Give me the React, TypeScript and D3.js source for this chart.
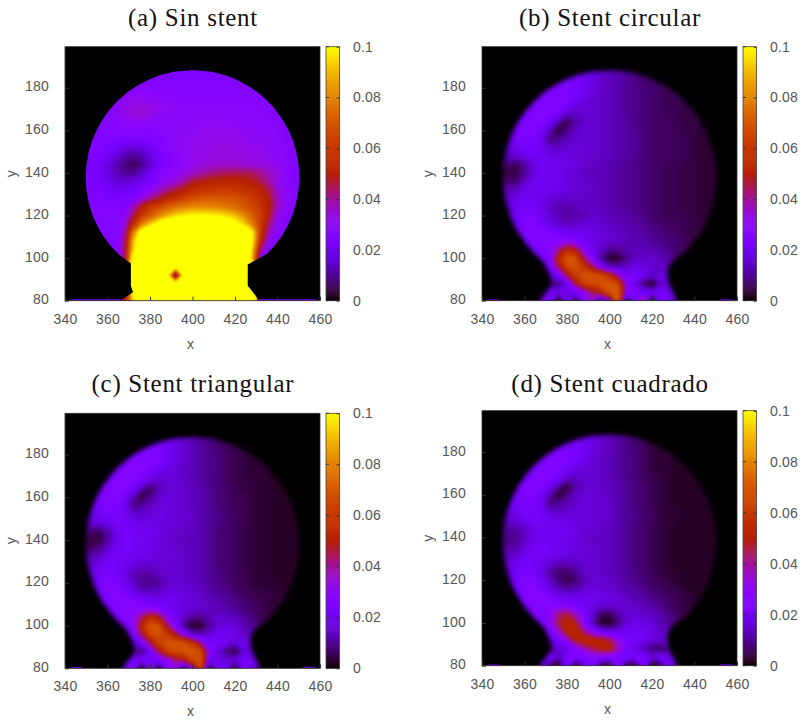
import React, { useRef, useEffect } from "react";
import * as d3 from "d3";

// Columns run x = 348..452 and rows y = 192..80, both every 4 units.
const gridX = d3.range(348, 453, 4);
const gridY = d3.range(192, 79, -4);
const xTicks = [340, 360, 380, 400, 420, 440, 460];
const yTicks = [80, 100, 120, 140, 160, 180];
const barTicks = [0, 0.02, 0.04, 0.06, 0.08, 0.1];

const sinStent = [
  [0,0,0,0,0,0,0,0,0,0,0,0,0,0,0,0,0,0,0,0,0,0,0,0,0,0,0],
  [0,0,0,0,0,24,24,24,24,24,24,24,24,24,24,24,24,24,24,24,24,24,0,0,0,0,0],
  [0,0,0,0,24,24,25,25,25,25,25,25,25,25,25,25,25,25,25,25,25,25,24,24,0,0,0],
  [0,0,0,24,25,26,27,27,27,27,27,26,26,26,26,26,26,26,26,26,26,26,25,25,24,0,0],
  [0,0,24,25,27,29,30,30,29,28,27,27,27,27,27,27,27,27,27,27,27,26,26,25,25,24,0],
  [0,24,25,26,28,31,33,33,32,31,30,29,28,28,28,28,28,28,28,28,28,27,27,26,25,25,0],
  [24,25,26,27,29,32,34,34,33,31,30,29,29,29,29,29,29,29,29,29,28,28,27,27,26,25,24],
  [24,25,26,27,28,29,30,30,29,29,29,29,29,30,30,30,30,30,30,29,29,28,28,27,26,25,24],
  [24,24,25,26,26,26,26,26,26,27,28,29,30,30,31,31,31,31,31,30,30,29,28,28,27,26,25],
  [24,24,25,25,25,24,24,24,24,26,28,29,30,31,31,31,32,32,31,31,30,30,29,28,27,26,25],
  [24,24,24,23,21,18,16,17,21,25,28,29,30,31,32,32,33,33,32,32,31,31,30,29,28,27,26],
  [24,24,23,21,17,12,10,12,17,22,26,28,30,31,32,33,33,33,33,33,32,32,31,30,28,27,26],
  [24,23,21,18,13,8,6,9,15,21,26,28,30,31,33,34,35,35,35,34,34,33,32,30,28,27,26],
  [24,23,21,17,13,10,10,14,20,25,28,30,32,36,38,41,43,44,45,45,44,41,37,33,29,27,26],
  [24,24,22,19,16,15,17,20,24,28,31,34,39,46,49,51,52,53,53,52,49,45,39,32,28,27,26],
  [24,24,23,21,20,20,22,25,29,35,41,46,51,57,59,60,61,61,60,59,56,52,45,35,29,27,26],
  [24,24,24,23,23,24,26,33,40,47,53,58,63,68,70,71,71,70,69,66,62,57,49,36,29,28,26],
  [25,25,25,25,25,27,36,50,60,66,72,77,80,82,82,81,80,78,75,71,66,60,50,36,29,27,26],
  [25,25,25,25,25,28,44,60,70,80,88,94,98,101,101,100,98,95,90,82,72,62,48,32,27,27,26],
  [25,25,25,25,26,32,55,78,92,105,115,125,130,130,130,125,120,112,105,95,80,62,42,30,27,27,26],
  [25,25,25,25,26,36,78,108,125,140,140,140,140,140,140,140,140,140,130,120,102,60,36,28,27,27,26],
  [25,25,25,25,26,40,88,115,140,140,140,140,140,140,140,140,140,140,140,130,100,55,30,27,27,27,26],
  [25,25,25,25,26,42,92,120,140,140,140,140,140,140,140,140,140,140,140,130,95,40,28,27,27,27,26],
  [25,25,25,25,26,40,105,130,140,140,140,140,140,140,140,140,140,140,140,130,90,28,27,27,27,27,26],
  [0,0,0,0,30,40,130,140,140,140,122,108,122,140,140,140,140,140,140,130,100,60,0,0,0,0,0],
  [0,0,0,0,0,40,130,140,140,140,108,28,108,140,140,140,140,140,140,130,120,60,0,0,0,0,0],
  [0,0,0,0,0,40,130,140,140,140,122,108,122,140,140,140,140,140,140,130,120,60,0,0,0,0,0],
  [0,0,0,0,0,40,110,140,140,140,140,140,140,140,140,140,140,140,140,140,130,60,0,0,0,0,0],
  [0,0,0,0,30,50,90,140,140,140,140,140,140,140,140,140,140,140,140,140,120,60,0,0,0,0,0],
];

const stentCircular = [
  [0,0,0,0,0,0,0,0,0,0,0,0,0,0,0,0,0,0,0,0,0,0,0,0,0,0,0],
  [0,0,0,0,0,18,20,20,20,20,19,18,15,13,12,10,9,7,6,5,4,0,0,0,0,0,0],
  [0,0,0,0,18,20,22,22,23,22,20,18,15,13,12,10,9,7,6,5,5,4,0,0,0,0,0],
  [0,0,0,16,20,22,24,24,24,23,20,17,15,13,12,10,9,8,7,6,5,5,4,0,0,0,0],
  [0,0,14,18,22,24,25,25,24,22,19,16,14,13,12,10,9,8,7,6,5,5,4,4,0,0,0],
  [0,14,16,20,23,25,25,24,21,18,16,15,14,13,12,10,9,8,7,6,5,5,4,4,4,0,0],
  [14,15,18,22,25,25,25,22,16,14,15,15,14,13,12,10,9,8,7,6,5,5,4,4,4,3,0],
  [14,16,21,24,25,25,20,13,5,11,15,15,14,13,12,11,9,8,7,6,6,5,4,4,4,3,3],
  [14,18,22,24,24,21,14,3,9,14,16,15,14,13,12,11,10,8,7,6,6,5,4,4,3,3,3],
  [14,18,21,23,23,19,8,10,13,15,16,15,14,13,12,11,10,8,7,6,6,5,5,4,3,3,3],
  [14,17,19,22,22,19,15,14,15,16,16,15,14,13,12,11,10,8,7,6,6,5,5,4,3,3,3],
  [14,14,16,18,20,20,18,17,17,16,15,15,14,13,12,11,10,8,7,6,6,5,5,4,3,3,3],
  [8,8,6,10,17,20,20,19,18,17,15,14,13,12,11,10,9,8,7,6,5,5,4,4,3,3,3],
  [4,4,4,10,17,20,20,19,17,16,14,13,13,12,11,10,9,8,7,6,5,5,4,4,3,3,3],
  [7,7,8,14,19,20,20,19,17,16,14,14,13,12,11,10,9,8,7,6,5,5,4,4,3,3,3],
  [12,12,14,18,20,20,19,18,17,15,15,14,13,12,11,10,9,8,7,6,5,5,4,4,3,3,3],
  [14,14,18,20,20,18,16,15,15,14,14,14,13,12,11,10,9,8,7,6,5,5,4,4,3,3,3],
  [14,14,20,22,21,18,14,12,12,13,14,14,13,12,11,10,9,8,7,6,5,5,4,4,3,3,3],
  [14,14,20,24,23,20,16,12,11,11,13,15,14,13,12,11,10,9,7,6,5,5,5,4,3,3,3],
  [0,16,20,24,25,22,18,15,14,15,16,16,15,14,13,12,11,10,8,7,6,6,5,4,4,3,0],
  [0,0,20,24,25,25,24,22,20,19,19,18,16,15,14,13,12,11,9,8,7,6,5,4,4,0,0],
  [0,0,0,20,24,25,26,27,28,25,21,18,16,15,14,13,12,12,10,9,8,7,5,4,0,0,0],
  [0,0,0,18,22,24,28,40,54,48,30,20,14,10,10,12,13,13,12,11,9,7,5,0,0,0,0],
  [0,0,0,0,20,22,26,54,70,68,42,24,10,2,3,9,14,15,15,13,11,8,0,0,0,0,0],
  [0,0,0,0,14,18,24,44,65,69,58,44,24,14,12,14,18,17,16,14,12,0,0,0,0,0,0],
  [0,0,0,0,0,12,20,22,44,63,69,69,65,56,36,22,22,20,14,18,16,0,0,0,0,0,0],
  [0,0,0,0,0,6,12,8,20,44,62,66,69,71,65,30,18,8,2,14,16,10,0,0,0,0,0],
  [0,0,0,0,0,14,20,18,18,22,30,44,54,68,70,28,24,20,18,22,20,14,0,0,0,0,0],
  [0,0,0,0,0,22,22,0,24,0,26,34,0,30,72,0,22,44,0,24,20,10,0,0,0,0,0],
];

const stentTriangular = [
  [0,0,0,0,0,0,0,0,0,0,0,0,0,0,0,0,0,0,0,0,0,0,0,0,0,0,0],
  [0,0,0,0,0,18,20,21,21,21,20,18,15,13,11,9,7,6,5,4,3,0,0,0,0,0,0],
  [0,0,0,0,18,21,23,23,24,23,21,18,15,13,11,9,7,6,5,4,3,3,0,0,0,0,0],
  [0,0,0,16,21,23,25,25,25,24,21,18,15,13,11,9,8,6,5,4,3,3,3,0,0,0,0],
  [0,0,14,19,23,25,26,26,25,23,20,17,15,13,11,9,8,6,5,4,3,3,3,2,0,0,0],
  [0,14,17,21,24,26,26,25,22,19,17,16,14,13,11,9,8,6,5,4,3,3,3,2,2,0,0],
  [14,15,19,23,26,26,26,23,17,15,16,16,14,13,11,9,8,6,5,4,4,3,3,2,2,2,0],
  [14,16,22,25,26,26,21,13,6,12,16,16,15,13,12,10,8,7,5,4,4,3,3,2,2,2,2],
  [14,19,23,25,25,22,14,3,10,15,17,16,15,13,12,10,8,7,5,5,4,3,3,2,2,2,2],
  [15,19,22,24,24,20,9,11,14,16,17,16,15,13,12,10,8,7,5,5,4,3,3,2,2,2,2],
  [15,18,20,23,23,20,16,15,16,17,17,16,15,14,12,10,9,7,6,5,4,3,3,2,2,2,2],
  [15,15,17,19,21,21,19,18,18,17,16,16,15,14,12,10,9,7,6,5,4,3,3,2,2,2,2],
  [8,8,6,11,18,21,21,20,19,18,16,15,14,13,12,10,8,7,6,4,4,3,3,2,2,2,2],
  [4,4,4,11,18,21,21,20,18,17,15,14,14,13,12,10,8,7,6,4,4,3,3,2,2,2,2],
  [7,7,9,15,20,21,21,20,18,17,15,15,14,13,12,10,8,7,6,4,4,3,3,2,2,2,2],
  [12,13,15,19,21,21,20,19,18,16,16,15,14,13,12,10,8,7,6,4,4,3,3,2,2,2,2],
  [14,15,19,21,21,19,16,15,15,15,15,15,14,13,12,10,8,7,6,4,4,3,3,2,2,2,2],
  [14,15,21,23,22,18,13,11,11,13,15,15,14,13,12,10,9,7,6,5,4,3,3,2,2,2,2],
  [14,15,21,25,24,20,15,10,9,10,14,16,15,14,13,11,9,8,6,5,4,3,3,3,2,2,2],
  [0,16,21,25,26,23,18,14,13,14,17,17,16,15,14,12,10,9,7,6,5,4,4,3,3,2,0],
  [0,0,20,25,26,26,24,22,20,19,20,19,17,16,15,13,12,10,9,7,6,5,4,3,3,0,0],
  [0,0,0,20,25,26,27,28,28,25,22,19,17,16,15,14,13,12,10,8,7,5,4,3,0,0,0],
  [0,0,0,18,23,25,30,42,54,48,31,21,14,10,10,13,15,14,13,11,8,6,4,0,0,0,0],
  [0,0,0,0,20,23,27,54,69,68,44,25,9,2,3,10,16,17,16,13,10,7,0,0,0,0,0],
  [0,0,0,0,15,19,25,44,65,69,60,46,26,14,13,16,20,20,18,15,12,0,0,0,0,0,0],
  [0,0,0,0,0,12,20,22,44,63,69,70,67,58,38,22,22,20,16,20,16,0,0,0,0,0,0],
  [0,0,0,0,0,6,12,8,20,44,62,67,70,71,65,26,16,8,3,16,16,10,0,0,0,0,0],
  [0,0,0,0,0,14,22,20,20,24,30,42,50,66,68,22,18,16,16,22,20,14,0,0,0,0,0],
  [0,0,0,0,0,22,24,0,24,0,26,30,0,28,62,0,22,22,0,24,18,10,0,0,0,0,0],
];

const stentSquare = [
  [0,0,0,0,0,0,0,0,0,0,0,0,0,0,0,0,0,0,0,0,0,0,0,0,0,0,0],
  [0,0,0,0,0,18,20,20,20,20,19,17,15,13,11,9,7,6,4,3,3,0,0,0,0,0,0],
  [0,0,0,0,18,20,22,22,23,22,20,17,15,13,11,9,7,6,4,3,3,2,0,0,0,0,0],
  [0,0,0,16,20,22,24,24,24,23,20,17,15,13,11,9,8,6,4,3,3,2,2,0,0,0,0],
  [0,0,14,18,22,24,25,25,24,22,19,16,14,13,11,9,8,6,4,3,3,2,2,2,0,0,0],
  [0,14,16,20,23,25,25,24,21,18,16,15,14,13,11,9,8,6,4,3,3,2,2,2,2,0,0],
  [14,15,18,22,25,25,25,22,16,14,15,15,14,13,11,9,8,6,5,4,3,2,2,2,2,2,0],
  [14,16,21,24,25,25,20,12,4,11,15,15,14,13,12,10,8,7,5,4,3,2,2,2,2,2,2],
  [14,18,22,24,24,21,13,2,9,14,16,16,15,13,12,10,8,7,5,4,3,2,2,2,2,2,2],
  [14,18,21,23,23,19,8,10,13,15,17,16,15,14,12,10,8,7,5,4,3,2,2,2,2,2,2],
  [14,17,19,22,22,20,16,15,15,16,17,16,15,14,12,10,9,7,6,4,3,3,2,2,2,2,2],
  [14,15,17,19,21,21,19,18,18,17,16,16,15,14,12,10,9,7,6,4,3,3,2,2,2,2,2],
  [10,11,11,14,18,20,20,20,19,18,16,15,14,13,12,10,8,7,5,4,3,2,2,2,2,2,2],
  [8,9,9,14,18,20,20,20,18,17,15,14,14,13,12,10,8,7,5,4,3,2,2,2,2,2,2],
  [10,10,11,16,20,21,21,20,18,17,15,15,14,13,12,10,8,7,5,4,3,2,2,2,2,2,2],
  [12,13,15,19,21,21,20,19,18,16,16,15,14,13,12,10,8,7,5,4,3,2,2,2,2,2,2],
  [14,15,19,21,21,19,16,13,13,14,15,15,14,13,12,10,8,7,5,4,3,2,2,2,2,2,2],
  [14,15,21,23,22,18,11,7,7,10,14,15,14,13,12,10,9,7,6,4,3,3,2,2,2,2,2],
  [14,15,21,25,24,20,14,8,5,7,12,15,15,14,13,11,9,8,6,5,4,3,2,2,2,2,2],
  [0,16,21,25,26,23,18,13,11,12,16,17,16,15,14,12,11,9,7,6,5,4,3,2,2,2,0],
  [0,0,20,25,26,26,24,21,19,18,19,19,18,17,16,14,12,11,9,8,6,5,4,3,2,0,0],
  [0,0,0,20,25,26,27,28,27,24,21,18,16,15,16,15,14,13,11,9,7,5,4,3,0,0,0],
  [0,0,0,18,23,25,30,42,46,36,25,15,6,5,11,15,16,15,14,12,9,6,4,0,0,0,0],
  [0,0,0,0,20,23,28,46,54,48,28,14,2,2,8,16,18,18,16,13,10,7,0,0,0,0,0],
  [0,0,0,0,15,19,25,34,52,54,41,27,20,18,18,20,20,20,18,14,12,0,0,0,0,0,0],
  [0,0,0,0,0,14,20,24,32,50,55,54,50,45,31,24,22,20,16,16,14,0,0,0,0,0,0],
  [0,0,0,0,0,8,14,16,18,26,36,45,50,52,38,22,18,14,8,6,10,8,0,0,0,0,0],
  [0,0,0,0,0,16,24,12,24,24,24,26,26,24,24,22,22,24,16,22,18,12,0,0,0,0,0],
  [0,0,0,0,0,26,6,2,26,0,16,28,2,4,26,3,3,26,2,6,26,14,0,0,0,0,0],
];

// outline of the dome, with the two neck shapes (no stent and stented)
const domeX = [364.9,361.2,358.2,355.3,353,351.2,350.1,349.7,350.1,351.2,352.7,354.8,357.6,361.2,364.9,369.5,373.9,379.7,385,391,400,409,415,420.3,426.1,430.5,435.1,438.8,442.4,445.2,447.3,448.8,449.9,450.3,449.9,448.8,447,444.7,441.8,438.8,435.1];
const domeY = [102,106,110,115,120,126,132,138,144,150,155,160,165,170,174,178,181,184,186,187.5,188.3,187.5,186,184,181,178,174,170,165,160,155,150,144,138,132,126,120,115,110,106,102];
const openNeckLeftX = [366,366,369,372,371,371];
const openNeckLeftY = [76,80,82,84,87,97.5];
const openNeckRightX = [426,426,430,431,431];
const openNeckRightY = [97,87,82,80,76];
const stentNeckLeftX = [367,367,370,373,372,369];
const stentNeckLeftY = [76,80,84,88,92,98];
const stentNeckRightX = [430,427,428,430,432,432];
const stentNeckRightY = [99,94,88,84,80,76];

// thin lit strip on the wall at y = 80
const stripA = [[343, 366], [431, 458]];
const stripB = [[343, 348], [452, 458]];

const panels = [
  { title: "(a) Sin stent", grid: sinStent, strip: stripA, open: true, blur: 0.9, edge: 0.6, left: 65, top: 46.7, bottom: 300.7, titleX: 193, titleY: 26 },
  { title: "(b) Stent circular", grid: stentCircular, strip: stripB, open: false, blur: 1.4, edge: 2.4, left: 482, top: 46.7, bottom: 300.7, titleX: 610, titleY: 26 },
  { title: "(c) Stent triangular", grid: stentTriangular, strip: stripB, open: false, blur: 1.4, edge: 2.4, left: 65, top: 413.3, bottom: 668.3, titleX: 193, titleY: 392 },
  { title: "(d) Stent cuadrado", grid: stentSquare, strip: stripB, open: false, blur: 1.4, edge: 2.4, left: 482, top: 410.7, bottom: 665.7, titleX: 610, titleY: 392 },
];

// gnuplot default palette (rgbformulae 7,5,15)
const palette = (t: number) => {
  const r = Math.sqrt(t);
  const g = t * t * t;
  const b = Math.max(Math.sin(2 * Math.PI * t), 0);
  return d3.rgb(r * 255, g * 255, b * 255).formatHex();
};

const plotWidth = 255;
const labelFont = "'Liberation Sans', Arial, sans-serif";
const labelColor = "#555";

const App = () => {
  const svgRef = useRef<SVGSVGElement>(null);

  useEffect(() => {
    const svg = d3.select(svgRef.current);
    svg.selectAll("*").remove();
    const color = d3.scaleSequential(palette).domain([0, 100]).clamp(true);
    const levels = d3.range(0.5, 100.5, 0.5);
    const defs = svg.append("defs");

    panels.forEach((p, idx) => {
      const g = svg.append("g");
      const x = d3.scaleLinear().domain([340, 460]).range([p.left, p.left + plotWidth]);
      const y = d3.scaleLinear().domain([80, 199.3]).range([p.bottom, p.top]);

      const addBlur = (id: string, amount: number) =>
        defs
          .append("filter")
          .attr("id", id)
          .attr("x", "-10%")
          .attr("y", "-10%")
          .attr("width", "120%")
          .attr("height", "120%")
          .attr("color-interpolation-filters", "sRGB")
          .append("feGaussianBlur")
          .attr("stdDeviation", amount);
      addBlur(`soft${idx}`, p.blur);
      addBlur(`edge${idx}`, p.edge);

      defs
        .append("clipPath")
        .attr("id", `plot${idx}`)
        .append("rect")
        .attr("x", p.left)
        .attr("y", p.top)
        .attr("width", plotWidth)
        .attr("height", p.bottom - p.top);

      g.append("rect")
        .attr("x", p.left)
        .attr("y", p.top)
        .attr("width", plotWidth)
        .attr("height", p.bottom - p.top)
        .attr("fill", "#000");

      // Field: nested contour bands, so colours blend through the palette
      const flat = p.grid.flatMap((row) => gridX.map((_, i) => row[i] ?? 0));
      const bands = d3.contours().size([gridX.length, gridY.length]).thresholds(levels)(flat);
      const path = d3.geoPath(
        d3.geoTransform({
          point(px: number, py: number) {
            this.stream.point(x(gridX[0] + 4 * (px - 0.5)), y(gridY[0] - 4 * (py - 0.5)));
          },
        })
      );

      // Soft or hard edge of the vessel
      const outlineX = p.open
        ? [...openNeckLeftX, ...domeX, ...openNeckRightX]
        : [...stentNeckLeftX, ...domeX, ...stentNeckRightX];
      const outlineY = p.open
        ? [...openNeckLeftY, ...domeY, ...openNeckRightY]
        : [...stentNeckLeftY, ...domeY, ...stentNeckRightY];
      const outline = d3
        .line<number>()
        .x((_, i) => x(outlineX[i]))
        .y((d) => y(d));
      defs
        .append("mask")
        .attr("id", `vessel${idx}`)
        .attr("maskUnits", "userSpaceOnUse")
        .attr("x", p.left - 10)
        .attr("y", p.top - 10)
        .attr("width", plotWidth + 20)
        .attr("height", p.bottom - p.top + 30)
        .append("path")
        .attr("d", outline(outlineY) + "Z")
        .attr("fill", "#fff")
        .attr("filter", `url(#edge${idx})`);

      g.append("g")
        .attr("clip-path", `url(#plot${idx})`)
        .append("g")
        .attr("mask", `url(#vessel${idx})`)
        .append("g")
        .attr("filter", `url(#soft${idx})`)
        .selectAll("path")
        .data(bands)
        .join("path")
        .attr("d", (d) => path(d))
        .attr("fill", (d) => color(d.value + 0.25));

      g.append("g")
        .selectAll("line")
        .data(p.strip)
        .join("line")
        .attr("x1", (d) => x(d[0]))
        .attr("x2", (d) => x(d[1]))
        .attr("y1", p.bottom - 0.8)
        .attr("y2", p.bottom - 0.8)
        .attr("stroke", color(idx === 0 ? 24 : 14))
        .attr("stroke-width", 1.4);

      // Axes
      const xAxis = g
        .append("g")
        .attr("transform", `translate(0,${p.bottom})`)
        .call(d3.axisBottom(x).tickValues(xTicks).tickSize(-4).tickPadding(13));
      const yAxis = g
        .append("g")
        .attr("transform", `translate(${p.left},0)`)
        .call(d3.axisLeft(y).tickValues(yTicks).tickSize(-4).tickPadding(16));
      [xAxis, yAxis].forEach((axis) => {
        axis.select(".domain").remove();
        axis.selectAll("line").attr("stroke", "#333");
        axis
          .selectAll("text")
          .attr("fill", labelColor)
          .attr("font-family", labelFont)
          .attr("font-size", 14)
          .attr("letter-spacing", 0.2);
      });
      yAxis.selectAll("text").attr("dy", "0.22em");

      g.append("rect")
        .attr("x", p.left)
        .attr("y", p.top)
        .attr("width", plotWidth)
        .attr("height", p.bottom - p.top)
        .attr("fill", "none")
        .attr("stroke", "#333")
        .attr("stroke-width", 0.8);

      // Colour bar
      const barLeft = p.left + 261;
      const barWidth = 13.5;
      const bar = d3.scaleLinear().domain([0, 0.1]).range([p.bottom, p.top]);
      const barSteps = d3.range(0, 100, 0.4);
      g.append("g")
        .selectAll("rect")
        .data(barSteps)
        .join("rect")
        .attr("x", barLeft)
        .attr("width", barWidth)
        .attr("y", (d) => bar((d + 0.4) / 1000) - 0.3)
        .attr("height", (d) => bar(d / 1000) - bar((d + 0.4) / 1000) + 0.6)
        .attr("fill", (d) => color(d));
      g.append("rect")
        .attr("x", barLeft)
        .attr("y", p.top)
        .attr("width", barWidth)
        .attr("height", p.bottom - p.top)
        .attr("fill", "none")
        .attr("stroke", "#444")
        .attr("stroke-width", 0.8);
      const barAxis = g
        .append("g")
        .attr("transform", `translate(${barLeft + barWidth},0)`)
        .call(
          d3
            .axisRight(bar)
            .tickValues(barTicks)
            .tickFormat((d) => String(d))
            .tickSize(-3)
            .tickPadding(13.5)
        );
      barAxis.select(".domain").remove();
      barAxis.selectAll("line").attr("stroke", "#333");
      barAxis
        .selectAll("text")
        .attr("fill", labelColor)
        .attr("font-family", labelFont)
        .attr("font-size", 14)
        .attr("letter-spacing", 0.2);
      g.append("g")
        .selectAll("line")
        .data(barTicks)
        .join("line")
        .attr("x1", barLeft)
        .attr("x2", barLeft + 3)
        .attr("y1", (d) => bar(d))
        .attr("y2", (d) => bar(d))
        .attr("stroke", "#333");

      // Titles and axis names
      g.append("text")
        .attr("x", p.titleX)
        .attr("y", p.titleY)
        .attr("text-anchor", "middle")
        .attr("font-family", "'Liberation Serif', serif")
        .attr("font-size", 25)
        .attr("letter-spacing", 0.7)
        .attr("fill", "#111")
        .text(p.title);
      g.append("text")
        .attr("x", p.left + plotWidth / 2 - 2)
        .attr("y", p.bottom + 48)
        .attr("text-anchor", "middle")
        .attr("font-family", labelFont)
        .attr("font-size", 14)
        .attr("fill", labelColor)
        .text("x");
      g.append("text")
        .attr("transform", `translate(${p.left - 49},${(p.top + p.bottom) / 2}) rotate(-90)`)
        .attr("text-anchor", "middle")
        .attr("font-family", labelFont)
        .attr("font-size", 14)
        .attr("fill", labelColor)
        .text("y");
    });
  }, []);

  return (
    <svg
      ref={svgRef}
      width={802}
      height={720}
      style={{ position: "absolute", left: 0, top: 0, background: "#fff" }}
    ></svg>
  );
};

export default App;
